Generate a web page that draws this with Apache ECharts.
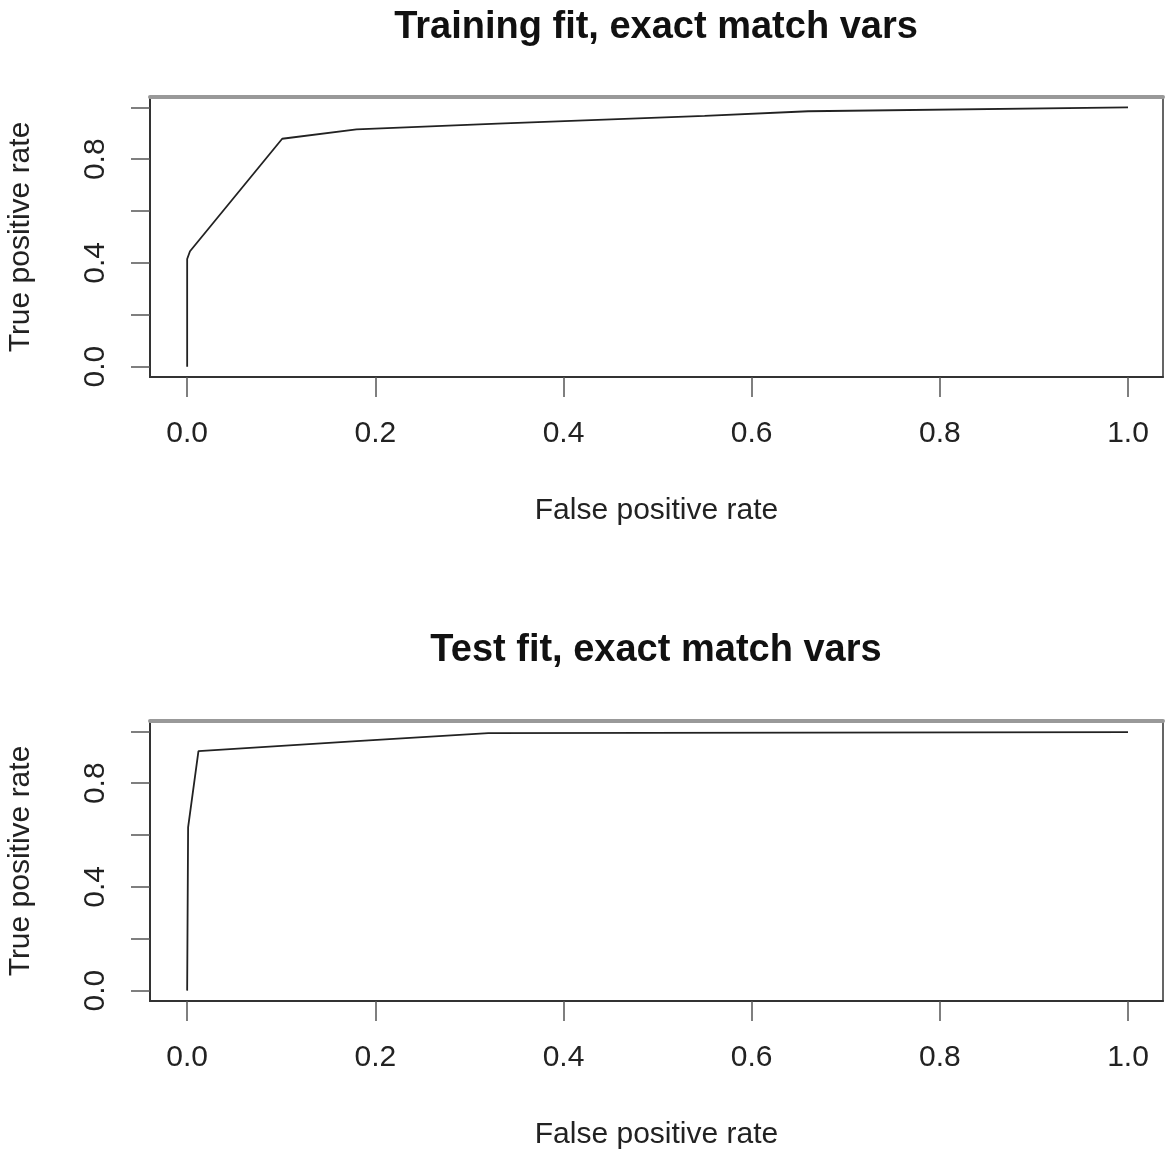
<!DOCTYPE html>
<html>
<head>
<meta charset="utf-8">
<script src="https://cdn.jsdelivr.net/npm/echarts@6/dist/echarts.min.js"></script>
<style>html,body{margin:0;padding:0;background:#fff;}#c{width:1165px;height:1152px;}</style>
</head>
<body>
<div id="c"></div>
<script>
var titles = ["Training fit, exact match vars", "Test fit, exact match vars"];
var xAxisName = "False positive rate";
var yAxisName = "True positive rate";
var xTicks = [0, 0.2, 0.4, 0.6, 0.8, 1.0];
var yTicks = [0, 0.2, 0.4, 0.6, 0.8, 1.0];
var yTickLabels = [0, 0.4, 0.8];
var trainFpr = [0, 0, 0.003, 0.101, 0.18, 0.33, 0.55, 0.66, 1.0];
var trainTpr = [0, 0.415, 0.445, 0.879, 0.915, 0.937, 0.967, 0.985, 1.0];
var testFpr = [0, 0.001, 0.012, 0.18, 0.32, 1.0];
var testTpr = [0, 0.63, 0.924, 0.962, 0.993, 0.997];

function pairs(xs, ys) { return xs.map(function (x, i) { return [x, ys[i]]; }); }

var FONT = '"Liberation Sans", Arial, sans-serif';
var gridTops = [97, 721];
var titleTops = [4, 627];

var chart = echarts.init(document.getElementById('c'), null, { renderer: 'canvas' });

var grids = [], xAxes = [], yAxes = [], series = [], titleOpts = [];
gridTops.forEach(function (t, i) {
  grids.push({ left: 150, right: 2, top: t, height: 280, show: true, borderColor: '#333', borderWidth: 1.5,
    backgroundColor: 'transparent', containLabel: false, outerBoundsMode: 'none' });
  titleOpts.push({ text: titles[i], left: 651, textAlign: 'center', top: titleTops[i],
    textStyle: { fontFamily: FONT, fontWeight: 'bold', fontSize: 38, color: '#111' } });
  xAxes.push({
    type: 'value', gridIndex: i, position: 'bottom', min: -0.0395, max: 1.0372,
    name: xAxisName, nameLocation: 'middle', nameGap: 119,
    nameTextStyle: { fontFamily: FONT, fontSize: 30, color: '#222' },
    axisLine: { show: true, onZero: false, lineStyle: { color: '#333', width: 2 } },
    axisTick: { show: true, length: 20, customValues: xTicks, lineStyle: { color: '#555', width: 1.5 } },
    axisLabel: { customValues: xTicks, margin: 42, fontFamily: FONT, fontSize: 30, color: '#222',
      formatter: function (v) { return v.toFixed(1); } },
    splitLine: { show: false }
  });
  xAxes.push({
    type: 'value', gridIndex: i, position: 'top', min: -0.0395, max: 1.0372,
    axisLine: { show: true, onZero: false, lineStyle: { color: '#999', width: 4 } },
    axisTick: { show: false }, axisLabel: { show: false }, splitLine: { show: false }
  });
  yAxes.push({
    type: 'value', gridIndex: i, min: -0.04, max: 1.04,
    name: yAxisName, nameLocation: 'middle', nameGap: 114, nameRotate: 90,
    nameTextStyle: { fontFamily: FONT, fontSize: 30, color: '#222' },
    axisLine: { show: true, onZero: false, lineStyle: { color: '#333', width: 2 } },
    axisTick: { show: true, length: 19, customValues: yTicks, lineStyle: { color: '#555', width: 1.5 } },
    axisLabel: { customValues: yTickLabels, rotate: 90, margin: 39, fontFamily: FONT, fontSize: 30, color: '#222',
      formatter: function (v) { return v.toFixed(1); } },
    splitLine: { show: false }
  });
});
series.push({ type: 'line', xAxisIndex: 0, yAxisIndex: 0, data: pairs(trainFpr, trainTpr), symbol: 'none',
  lineStyle: { color: '#222', width: 1.8 }, animation: false });
series.push({ type: 'line', xAxisIndex: 2, yAxisIndex: 1, data: pairs(testFpr, testTpr), symbol: 'none',
  lineStyle: { color: '#222', width: 1.8 }, animation: false });

chart.setOption({
  animation: false,
  backgroundColor: '#fff',
  title: titleOpts,
  grid: grids,
  xAxis: xAxes,
  yAxis: yAxes,
  series: series
});
</script>
</body>
</html>
